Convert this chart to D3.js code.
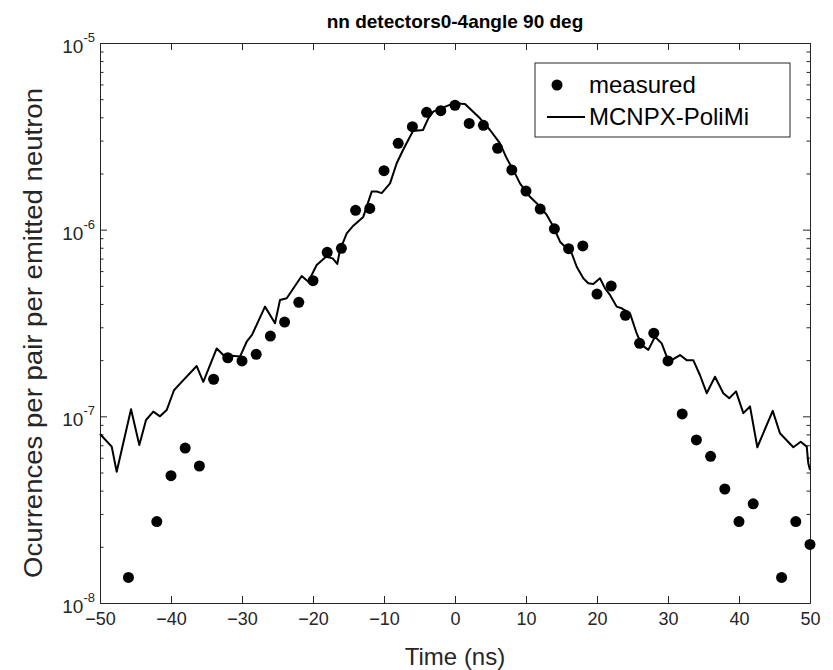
<!DOCTYPE html>
<html>
<head>
<meta charset="utf-8">
<script src="https://cdn.jsdelivr.net/npm/d3@7"></script>
<style>
  body { margin: 0; background: #fff; }
  text { font-family: "Liberation Sans", Arial, sans-serif; fill: #262626; }
</style>
</head>
<body>
<div id="chart"></div>
<script>
// measured points (ns, occurrences)
const measuredTime = [-46, -42, -40, -38, -36, -34, -32, -30, -28, -26, -24, -22, -20, -18, -16, -14, -12, -10, -8, -6, -4, -2,
    0, 2, 4, 6, 8, 10, 12, 14, 16, 18, 20, 22, 24, 26, 28, 30, 32, 34, 36, 38, 40, 42, 46, 48, 50];
const measuredValue = [1.37e-8, 2.73e-8, 4.81e-8, 6.76e-8, 5.42e-8, 1.58e-7, 2.06e-7, 1.98e-7, 2.15e-7, 2.69e-7, 3.20e-7, 4.08e-7,
    5.33e-7, 7.56e-7, 7.94e-7, 1.27e-6, 1.30e-6, 2.07e-6, 2.90e-6, 3.56e-6, 4.25e-6, 4.34e-6,
    4.64e-6, 3.71e-6, 3.62e-6, 2.73e-6, 2.09e-6, 1.61e-6, 1.29e-6, 1.01e-6, 7.91e-7, 8.18e-7, 4.52e-7, 4.99e-7, 3.48e-7,
    2.46e-7, 2.79e-7, 1.98e-7, 1.03e-7, 7.47e-8, 6.11e-8, 4.08e-8, 2.73e-8, 3.40e-8, 1.37e-8, 2.73e-8, 2.06e-8];

// MCNPX-PoliMi simulation curve
const simTime = [-50, -48.35, -47.65, -45.63, -44.46, -43.52, -42.49, -41.55, -40.61, -39.58, -38.49, -36.38, -35.45, -33.56,
    -32.63, -30.28, -29.34, -28.59, -26.76, -25.35, -24.65, -23.7, -21.59, -20.66, -19.48, -18.17, -17.23, -16.58, -16.2,
    -15.25, -14.32, -12.92, -11.73, -11.03, -10.32, -9.15, -8.21, -7.32, -5.92, -4.51, -3.76, -3.06, -0.24, 1.41, 3.52,
    4.93, 6.34, 7.28, 8.21, 9.15, 10.56, 11.97, 12.92, 13.85, 14.79, 16.44, 17.14, 18.07, 18.77, 19.48, 20.42, 21.13,
    21.83, 22.77, 23.48, 24.65, 25.59, 26.3, 27.23, 28.17, 29.11, 29.82, 30.52, 31.69, 32.63, 33.56, 34.51, 35.45, 36.62,
    37.79, 38.63, 39.58, 40.61, 41.55, 42.58, 44.75, 45.77, 47.65, 48.69, 49.54, 49.76, 50];
const simValue = [8.04e-8, 6.88e-8, 5.05e-8, 1.09e-7, 7.02e-8, 9.56e-8, 1.06e-7, 1.00e-7, 1.08e-7, 1.38e-7, 1.53e-7, 1.86e-7,
    1.53e-7, 2.31e-7, 2.13e-7, 2.09e-7, 2.51e-7, 2.73e-7, 3.87e-7, 3.15e-7, 4.20e-7, 4.29e-7, 5.65e-7, 5.26e-7, 6.47e-7,
    7.16e-7, 7.02e-7, 6.55e-7, 7.78e-7, 9.56e-7, 1.05e-6, 1.17e-6, 1.60e-6, 1.60e-6, 1.57e-6, 1.77e-6, 2.27e-6, 2.67e-6,
    3.38e-6, 3.42e-6, 3.95e-6, 4.29e-6, 4.75e-6, 4.71e-6, 3.95e-6, 3.42e-6, 2.90e-6, 2.41e-6, 2.09e-6, 1.77e-6, 1.50e-6,
    1.33e-6, 1.20e-6, 1.04e-6, 8.62e-7, 7.47e-7, 6.33e-7, 5.49e-7, 5.16e-7, 5.12e-7, 5.49e-7, 4.85e-7, 4.47e-7, 3.87e-7,
    3.79e-7, 3.56e-7, 2.78e-7, 2.41e-7, 2.27e-7, 2.67e-7, 2.46e-7, 2.09e-7, 2.00e-7, 2.13e-7, 2.00e-7, 2.00e-7, 1.66e-7,
    1.33e-7, 1.63e-7, 1.33e-7, 1.25e-7, 1.36e-7, 1.04e-7, 1.13e-7, 6.83e-8, 1.07e-7, 8.11e-8, 6.83e-8, 7.31e-8, 6.88e-8,
    5.60e-8, 5.16e-8];

const xTicks = [-50, -40, -30, -20, -10, 0, 10, 20, 30, 40, 50];
const yTicks = [1e-8, 1e-7, 1e-6, 1e-5];
const yTickExp = ["-8", "-7", "-6", "-5"];
const seriesNames = ["measured", "MCNPX-PoliMi"];

const margin = { top: 43, right: 23, bottom: 67, left: 100 };
const width = 833 - margin.left - margin.right;
const height = 670 - margin.top - margin.bottom;
const ink = "#262626";

const svg = d3.select("#chart")
    .append("svg")
    .attr("width", 833)
    .attr("height", 670);

const g = svg.append("g")
    .attr("transform", `translate(${margin.left}, ${margin.top})`);

const x = d3.scaleLinear([-50, 50], [0, width]);
const y = d3.scaleLog([1e-8, 1e-5], [height, 0]);

// minor ticks for the log axis
const minorTicks = y.ticks().filter(v => yTicks.indexOf(v) < 0);

// x axes, bottom and top, ticks pointing inward
g.append("g")
    .attr("transform", `translate(0, ${height})`)
    .call(d3.axisBottom(x).tickValues(xTicks).tickSize(-7).tickPadding(9).tickSizeOuter(0))
    .call(a => a.selectAll("text").style("font-size", "18px"));
g.append("g")
    .call(d3.axisTop(x).tickValues(xTicks).tickSize(-7).tickFormat("").tickSizeOuter(0));

// y axes, left and right
g.append("g")
    .call(d3.axisLeft(y).tickValues(yTicks).tickSize(-7).tickFormat("").tickSizeOuter(0));
g.append("g")
    .call(d3.axisLeft(y).tickValues(minorTicks).tickSize(-3.5).tickFormat("").tickSizeOuter(0));
g.append("g")
    .attr("transform", `translate(${width}, 0)`)
    .call(d3.axisRight(y).tickValues(yTicks).tickSize(-7).tickFormat("").tickSizeOuter(0));
g.append("g")
    .attr("transform", `translate(${width}, 0)`)
    .call(d3.axisRight(y).tickValues(minorTicks).tickSize(-3.5).tickFormat("").tickSizeOuter(0));

g.selectAll(".domain").attr("stroke", ink);
g.selectAll(".tick line").attr("stroke", ink);
g.selectAll(".tick text").attr("fill", ink);

// y tick labels as 10^n
const yLab = g.append("g").selectAll("text")
    .data(yTicks)
    .join("text")
    .attr("x", -5)
    .attr("y", d => y(d) + 10)
    .attr("text-anchor", "end")
    .style("font-size", "19px");
yLab.append("tspan").text("10");
yLab.append("tspan")
    .attr("dy", -11)
    .style("font-size", "13px")
    .text((d, i) => yTickExp[i]);

// simulation line
g.append("path")
    .datum(simTime.map((t, i) => [t, simValue[i]]))
    .attr("fill", "none")
    .attr("stroke", "#000")
    .attr("stroke-width", 2)
    .attr("stroke-linejoin", "round")
    .attr("d", d3.line().x(d => x(d[0])).y(d => y(d[1])));

// measured dots
g.append("g")
    .selectAll("circle")
    .data(measuredTime.map((t, i) => [t, measuredValue[i]]))
    .join("circle")
    .attr("cx", d => x(d[0]))
    .attr("cy", d => y(d[1]))
    .attr("r", 5.5)
    .attr("fill", "#000");

// title and axis labels
svg.append("text")
    .attr("x", margin.left + width / 2)
    .attr("y", 28)
    .attr("text-anchor", "middle")
    .style("font-size", "19px")
    .style("font-weight", "bold")
    .style("fill", "#000")
    .text("nn detectors0-4angle 90 deg");

svg.append("text")
    .attr("x", margin.left + width / 2)
    .attr("y", 665)
    .attr("text-anchor", "middle")
    .style("font-size", "24px")
    .text("Time (ns)");

svg.append("text")
    .attr("transform", `translate(42, ${margin.top + height / 2 + 10}) rotate(-90)`)
    .attr("text-anchor", "middle")
    .attr("textLength", 490)
    .attr("lengthAdjust", "spacingAndGlyphs")
    .style("font-size", "25px")
    .text("Ocurrences per pair per emitted neutron");

// legend
const legend = svg.append("g").attr("transform", "translate(535, 63)");
legend.append("rect")
    .attr("width", 255)
    .attr("height", 74)
    .attr("fill", "#fff")
    .attr("stroke", ink)
    .attr("stroke-width", 1);
legend.append("circle")
    .attr("cx", 22)
    .attr("cy", 22)
    .attr("r", 5.5)
    .attr("fill", "#000");
legend.append("line")
    .attr("x1", 12).attr("x2", 50)
    .attr("y1", 54).attr("y2", 54)
    .attr("stroke", "#000")
    .attr("stroke-width", 2);
legend.selectAll("text.name")
    .data(seriesNames)
    .join("text")
    .attr("class", "name")
    .attr("x", 54)
    .attr("y", (d, i) => 30 + i * 32)
    .style("font-size", "24px")
    .style("fill", "#000")
    .text(d => d);
</script>
</body>
</html>
